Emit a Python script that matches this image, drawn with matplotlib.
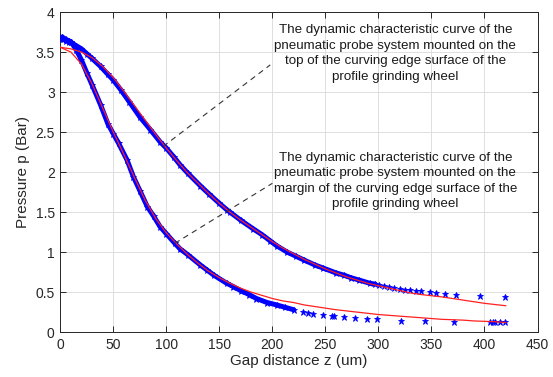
import numpy as np
import matplotlib
matplotlib.use('Agg')
import matplotlib.pyplot as plt

plt.rcParams['font.family'] = ['Liberation Sans', 'DejaVu Sans']

# measured points, probe on the top of the curving edge
z_top = [0, 2, 5, 8, 10, 15, 20, 25, 30, 38, 45, 50, 57, 65, 75, 85, 94, 100, 107, 113,
         120, 132, 140, 150, 157, 160, 170, 182, 190, 198, 204, 214, 222, 230, 240, 248,
         260, 268, 274, 282, 292, 297, 301, 305, 310, 315, 320, 325, 330, 335, 340,
         349, 354, 363, 373, 396, 419]
p_top = [3.66, 3.69, 3.64, 3.63, 3.62, 3.58, 3.54, 3.48, 3.42, 3.32, 3.22, 3.15, 3.03, 2.88,
         2.69, 2.53, 2.38, 2.30, 2.19, 2.09, 1.99, 1.83, 1.73, 1.61, 1.53, 1.50, 1.40, 1.29,
         1.22, 1.14, 1.08, 1.00, 0.95, 0.90, 0.84, 0.80, 0.74, 0.71, 0.68, 0.65, 0.61, 0.60,
         0.59, 0.58, 0.57, 0.55, 0.54, 0.53, 0.525, 0.52, 0.51, 0.50, 0.49, 0.48, 0.47,
         0.45, 0.44]

# measured points, probe on the margin of the curving edge
z_mar = [0, 3, 5, 8, 10, 15, 20, 25, 30, 38, 45, 50, 55, 63, 69, 75, 82, 88, 94, 100,
         108, 113, 120, 132, 138, 145, 157, 163, 170, 178, 185, 195, 204, 212, 220, 229,
         234, 238, 248, 256, 258, 268, 278, 289, 299, 321, 344, 371, 405, 408, 410, 415, 419]
p_mar = [3.68, 3.66, 3.66, 3.64, 3.63, 3.53, 3.40, 3.24, 3.09, 2.84, 2.60, 2.48, 2.36, 2.15,
         1.94, 1.77, 1.57, 1.45, 1.32, 1.23, 1.11, 1.04, 0.97, 0.84, 0.78, 0.71, 0.61, 0.57,
         0.52, 0.47, 0.42, 0.37, 0.34, 0.31, 0.28, 0.25, 0.24, 0.23, 0.21, 0.20, 0.20, 0.19,
         0.18, 0.17, 0.16, 0.145, 0.14, 0.13, 0.125, 0.125, 0.125, 0.125, 0.125]

# fitted curves
z_fit = list(range(0, 421, 10))
p_fit_top = [3.56, 3.54, 3.50, 3.43, 3.32, 3.18, 3.01, 2.83, 2.65, 2.47, 2.30, 2.14, 1.99,
             1.86, 1.73, 1.61, 1.50, 1.40, 1.31, 1.22, 1.13, 1.05, 0.98, 0.91, 0.85, 0.79,
             0.74, 0.69, 0.65, 0.61, 0.58, 0.55, 0.52, 0.49, 0.47, 0.455, 0.44, 0.42, 0.40,
             0.38, 0.36, 0.345, 0.33]
p_fit_mar = [3.56, 3.50, 3.35, 3.10, 2.80, 2.50, 2.22, 1.93, 1.65, 1.42, 1.24, 1.10, 0.97,
             0.86, 0.76, 0.68, 0.61, 0.55, 0.50, 0.46, 0.42, 0.39, 0.37, 0.34, 0.32, 0.30,
             0.28, 0.265, 0.25, 0.235, 0.22, 0.21, 0.20, 0.19, 0.18, 0.17, 0.16, 0.155, 0.15,
             0.14, 0.135, 0.13, 0.12]

txt_top = ('The dynamic characteristic curve of the\npneumatic probe system mounted on the\n'
           'top of the curving edge surface of the\nprofile grinding wheel')
txt_mar = ('The dynamic characteristic curve of the\npneumatic probe system mounted on the\n'
           'margin of the curving edge surface of the\nprofile grinding wheel')

fig = plt.figure(figsize=(5.53, 3.77), dpi=100)
ax = fig.add_axes([0.109, 0.119, 0.863, 0.849])

blue = '#0000ff'
for z, p, zmax in ((z_top, p_top, 300), (z_mar, p_mar, 225)):
    z = np.array(z)
    p = np.array(p)
    m = z <= zmax
    ax.plot(z[m], p[m], color=blue, lw=3.6, solid_capstyle='round', zorder=2)
    ax.plot(z, p, '*', color=blue, mec=blue, ms=4.5, mew=0.6, zorder=3)

ax.plot(z_fit, p_fit_top, color='#ff2020', lw=0.9, zorder=4)
ax.plot(z_fit, p_fit_mar, color='#ff2020', lw=0.9, zorder=4)

# annotation leaders
ax.plot([97, 198], [2.32, 3.34], color='#333333', ls=(0, (5, 4)), lw=0.8, zorder=5)
ax.plot([108, 200], [1.11, 1.86], color='#333333', ls=(0, (5, 4)), lw=0.8, zorder=5)
ax.text(316, 3.48, txt_top, ha='center', va='center', fontsize=9.6, linespacing=1.4,
        color='#1a1a1a')
ax.text(316, 1.89, txt_mar, ha='center', va='center', fontsize=9.6, linespacing=1.4,
        color='#1a1a1a')

ax.set_xlim(0, 450)
ax.set_ylim(0, 4)
ax.set_xticks(np.arange(0, 451, 50))
ax.set_yticks(np.arange(0, 4.01, 0.5))
ax.set_yticklabels(['0', '0.5', '1', '1.5', '2', '2.5', '3', '3.5', '4'])
ax.grid(True, color='#dedede', lw=0.7)
ax.set_axisbelow(True)
ax.tick_params(direction='in', top=True, right=True, length=4, width=0.7,
               colors='#262626', labelsize=10, pad=4)
for s in ax.spines.values():
    s.set_color('#262626')
    s.set_linewidth(0.7)
ax.set_xlabel('Gap distance z (um)', fontsize=11, color='#262626', labelpad=2)
ax.set_ylabel('Pressure p (Bar)', fontsize=11, color='#262626', labelpad=4)

fig.savefig('out.png', dpi=100)
